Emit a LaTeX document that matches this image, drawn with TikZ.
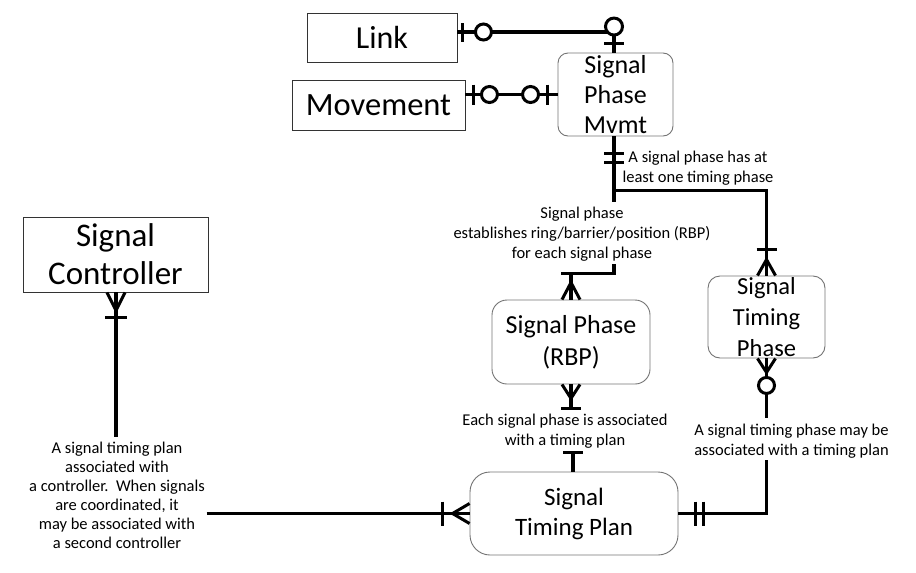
\documentclass[tikz,border=0pt]{standalone}
\usepackage{fontspec}
\setmainfont{Carlito}
\usetikzlibrary{calc}
\begin{document}
\begin{tikzpicture}[x=1pt,y=-1pt,
  conn/.style={line width=3.5pt},
  tip/.style={line width=3pt, line join=round},
  ring/.style={line width=3pt, fill=white},
  sqbox/.style={draw=black!80, line width=0.9pt, inner sep=0pt, align=center},
  rbox/.style={draw=black!55, line width=0.9pt, inner sep=0pt, align=center},
  lab/.style={font=\fontsize{16.5}{20}\selectfont, align=center, inner sep=0pt}]
\useasboundingbox (0,0) rectangle (916,573);

% entities
\node[sqbox, minimum width=150pt, minimum height=49pt, font=\fontsize{32}{38}\selectfont] (link) at (382,37.5) {Link};
\node[sqbox, minimum width=173pt, minimum height=50pt, font=\fontsize{32.5}{38}\selectfont] (move) at (378.5,105) {Movement};
\node[rbox, rounded corners=10pt, minimum width=115pt, minimum height=83pt, font=\fontsize{26}{30}\selectfont] (spm) at (615.5,94.5) {Signal\\Phase\\Mvmt};
\node[rbox, rounded corners=15pt, minimum width=158pt, minimum height=84pt, font=\fontsize{26}{32}\selectfont] (rbp) at (571,342) {Signal Phase\\(RBP)};
\node[rbox, rounded corners=12pt, minimum width=117pt, minimum height=82pt, font=\fontsize{24.5}{31}\selectfont] (stph) at (766.5,317) {Signal\\Timing\\Phase};
\node[rbox, rounded corners=20pt, minimum width=208pt, minimum height=83pt, font=\fontsize{25}{30}\selectfont] (stp) at (574,513.5) {Signal\\Timing Plan};
\node[sqbox, minimum width=185pt, minimum height=75pt, font=\fontsize{33}{38}\selectfont] (ctrl) at (115.5,254.5) {Signal\\Controller};

% labels
\node[lab] (l1) at (698,168) {A signal phase has at\\least one timing phase};
\node[lab] (l2) at (582,234) {Signal phase\\establishes ring/barrier/position (RBP)\\for each signal phase};
\node[lab] (l3) at (565,431) {Each signal phase is associated\\with a timing plan};
\node[lab] (l4) at (791.5,441) {A signal timing phase may be\\associated with a timing plan};
\node[lab, font=\fontsize{16.5}{19}\selectfont] (l5) at (117,495) {A signal timing plan\\associated with\\a controller.\ \ When signals\\are coordinated, it\\may be associated with\\a second controller};

% Link -- Signal Phase Mvmt
\coordinate (sA) at ([xshift=-1.5pt]spm.north);
\draw[conn] ([yshift=5.5pt]link.east) -| (sA);
\draw[tip] ($(link.east)+(5,-14.5)$) -- ($(link.east)+(5,4.5)$);
\draw[ring] ($(link.east)+(26,-5.5)$) circle (8pt);
\draw[ring] ($(sA)+(0,-26)$) circle (8.5pt);
\draw[tip] ($(sA)+(-10,-9)$) -- ($(sA)+(10,-9)$);

% Movement -- Signal Phase Mvmt
\coordinate (mE) at (move.east |- spm.west);
\draw[conn] (mE) -- (spm.west);
\draw[tip] ($(mE)+(8,-10)$) -- ($(mE)+(8,10)$);
\draw[ring] ($(mE)+(24,0)$) circle (8pt);
\draw[ring] ($(spm.west)+(-27,0)$) circle (8pt);
\draw[tip] ($(spm.west)+(-10,-10)$) -- ($(spm.west)+(-10,10)$);

% Signal Phase Mvmt -- Signal Timing Phase / Signal Phase (RBP)
\coordinate (sB) at ([xshift=-1.5pt]spm.south);
\coordinate (j1) at ($(sB)+(0,54)$);
\coordinate (g1) at ($(sB)+(0,66)$);
\coordinate (g2) at ($(sB)+(0,128)$);
\coordinate (j2) at ($(sB)+(0,137)$);
\draw[conn] (sB) -- (g1);
\draw[tip] ($(sB)+(-10,17)$) -- ($(sB)+(10,17)$);
\draw[tip] ($(sB)+(-10,26)$) -- ($(sB)+(10,26)$);
\draw[conn] (j1) -| (stph.north);
\draw[tip] ($(stph.north)+(-10,-26)$) -- ($(stph.north)+(10,-26)$);
\draw[tip] ($(stph.north)+(-9,0)$) -- ($(stph.north)+(0,-16)$) -- ($(stph.north)+(9,0)$);
\draw[conn] (g2) -- (j2) -- ($(rbp.north |- j2)+(-10,0)$);
\draw[conn] (rbp.north |- j2) -- (rbp.north);
\draw[tip] ($(rbp.north)+(-9,0)$) -- ($(rbp.north)+(0,-17)$) -- ($(rbp.north)+(9,0)$);

% Signal Phase (RBP) -- Signal Timing Plan
\coordinate (r1) at ($(rbp.south)+(0,24)$);
\draw[conn] (rbp.south) -- (r1);
\draw[tip] ($(r1)+(-10,0)$) -- ($(r1)+(10,0)$);
\draw[tip] ($(rbp.south)+(-9,0)$) -- ($(rbp.south)+(0,14)$) -- ($(rbp.south)+(9,0)$);
\coordinate (p0) at ([xshift=-1pt]stp.north);
\coordinate (p1) at ($(p0)+(0,-19)$);
\draw[conn] (p0) -- (p1);
\draw[tip] ($(p1)+(-10,0)$) -- ($(p1)+(10,0)$);

% Signal Timing Phase -- Signal Timing Plan
\coordinate (t1) at ($(stph.south)+(0,60)$);
\coordinate (t2) at ($(stph.south)+(0,102)$);
\draw[conn] (stph.south) -- (t1);
\draw[tip] ($(stph.south)+(-9,0)$) -- ($(stph.south)+(0,14)$) -- ($(stph.south)+(9,0)$);
\draw[ring] ($(stph.south)+(0,27)$) circle (8pt);
\draw[conn] (t2) |- (stp.east);
\draw[tip] ($(stp.east)+(17,-12)$) -- ($(stp.east)+(17,12)$);
\draw[tip] ($(stp.east)+(25,-12)$) -- ($(stp.east)+(25,12)$);

% Signal Controller -- Signal Timing Plan
\coordinate (k0) at ([xshift=0.5pt]ctrl.south);
\coordinate (k1) at ($(k0)+(0,145)$);
\draw[conn] (k0) -- (k1);
\draw[tip] ($(k0)+(-9,0)$) -- ($(k0)+(0,18)$) -- ($(k0)+(9,0)$);
\draw[tip] ($(k0)+(-11,25)$) -- ($(k0)+(11,25)$);
\coordinate (c1) at ($(stp.west)+(-263,0)$);
\draw[conn] (c1) -- (stp.west);
\draw[tip] ($(stp.west)+(-27,-12)$) -- ($(stp.west)+(-27,12)$);
\draw[tip] ($(stp.west)+(0,-10)$) -- ($(stp.west)+(-17,0)$) -- ($(stp.west)+(0,10)$);
\end{tikzpicture}
\end{document}
